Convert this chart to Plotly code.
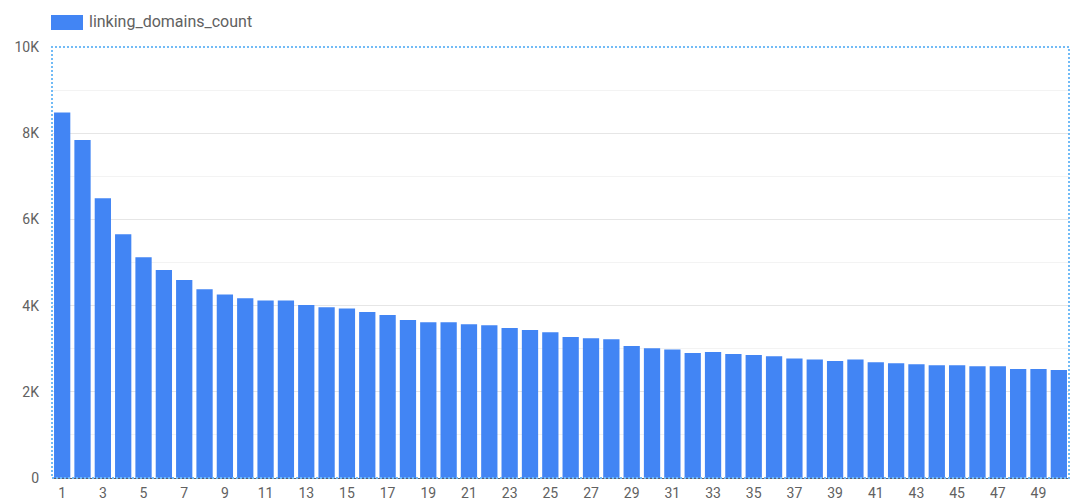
import plotly.graph_objects as go

ranks = list(range(1, 51))
linking_domains_count = [
    8478, 7845, 6492, 5657, 5123, 4828, 4596, 4381, 4255, 4172,
    4116, 4116, 4016, 3963, 3930, 3854, 3784, 3668, 3615, 3615,
    3568, 3545, 3483, 3436, 3383, 3274, 3244, 3220, 3065, 3012,
    2979, 2903, 2926, 2879, 2856, 2826, 2775, 2747, 2717, 2747,
    2687, 2664, 2640, 2617, 2617, 2594, 2594, 2531, 2531, 2508,
]
series_name = "linking_domains_count"
y_tickvals = [0, 2000, 4000, 6000, 8000, 10000]
y_ticktext = ["0", "2K", "4K", "6K", "8K", "10K"]
x_tickvals = list(range(1, 51, 2))

BLUE = "#4285F4"
TEXT = "#616161"

fig = go.Figure()
fig.add_trace(go.Bar(
    x=ranks, y=linking_domains_count, name=series_name,
    marker=dict(color=BLUE, line=dict(width=0)),
    showlegend=False,
))

fig.update_layout(
    width=1080, height=502,
    margin=dict(l=52, r=11, t=47, b=24, autoexpand=False),
    paper_bgcolor="white", plot_bgcolor="white",
    bargap=0.2,
    font=dict(family="Roboto", size=14, color=TEXT),
    xaxis=dict(
        range=[0.5, 50.5], tickvals=x_tickvals, automargin=False,
        showgrid=False, zeroline=False,
        showline=True, linecolor="#5f6368", linewidth=1,
        ticks="", ticklabelstandoff=2,
        tickfont=dict(family="Roboto", size=14, color=TEXT),
    ),
    yaxis=dict(
        range=[0, 10000], tickvals=y_tickvals, ticktext=y_ticktext, automargin=False,
        showgrid=True, gridcolor="#e6e6e6", gridwidth=1,
        minor=dict(dtick=1000, tick0=0, showgrid=True, gridcolor="#f3f3f3", gridwidth=1),
        zeroline=False, showline=False, ticks="",
        ticklabelstandoff=12,
        tickfont=dict(family="Roboto", size=14, color=TEXT),
    ),
)

# dotted plot-area frame
fig.add_shape(type="rect", xref="paper", yref="paper", x0=0, x1=1, y0=0, y1=1,
              line=dict(color="#72BBF6", width=2, dash="2px,2px"), layer="above")

# legend (wide swatch + label)
fig.add_shape(type="rect", xref="paper", yref="paper",
              x0=-1/1017, x1=31/1017, y0=1 + 17/431, y1=1 + 32/431,
              fillcolor=BLUE, line=dict(width=0))
fig.add_annotation(xref="paper", yref="paper", x=35/1017, y=1 + 25/431,
                   text=series_name, showarrow=False, xanchor="left", yanchor="middle",
                   font=dict(family="Roboto", size=16, color=TEXT))

fig.write_html("out.html",
               config={"displayModeBar": False},
               post_script="document.body.style.margin='0';document.body.style.overflow='hidden';")
